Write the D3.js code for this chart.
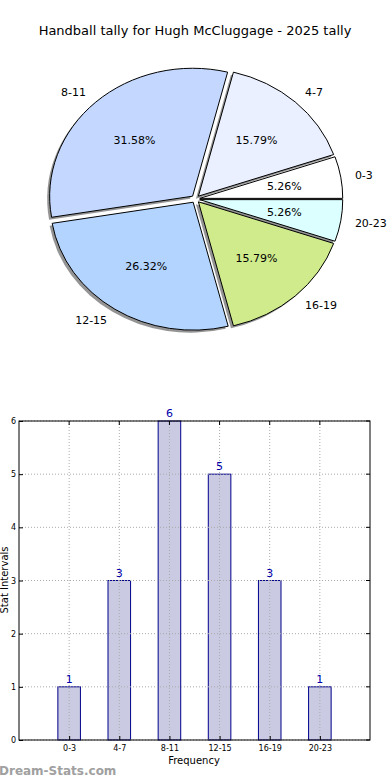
<!DOCTYPE html>
<html><head><meta charset="utf-8">
<script src="https://cdn.jsdelivr.net/npm/d3@7"></script>
<style>body{margin:0;background:#fff;} text{font-family:"DejaVu Sans",sans-serif;}</style>
</head><body><svg id="c" width="390" height="780"></svg>
<script>
const categories = ["0-3","4-7","8-11","12-15","16-19","20-23"];
const counts = [1,3,6,5,3,1];
const sliceColors = ["#ffffff","#eaf0ff","#c4d8ff","#b3d4ff","#d0eb8c","#dcffff"];
const yTicks = [0,1,2,3,4,5,6];
const title = "Handball tally for Hugh McCluggage - 2025 tally";

const svg = d3.select("#c");
svg.append("rect").attr("width",390).attr("height",780).attr("fill","#fff");
svg.append("text").attr("x",195).attr("y",35).attr("text-anchor","middle")
  .attr("font-size",13).text(title);

// Pie (matplotlib-style: counterclockwise from east)
const cx = 195.5, cy = 199, rx = 143, ry = 128, explode = 0.03;
const total = d3.sum(counts);
const pie = d3.pie().sort(null).value(d=>d)
  .startAngle(Math.PI/2).endAngle(Math.PI/2 - 2*Math.PI);
const arcs = pie(counts);
const arcGen = d3.arc().innerRadius(0).outerRadius(1);
const pieG = svg.append("g");
function mathAngle(a){ return Math.PI/2 - a; }
arcs.forEach((a,i)=>{
  const mid = mathAngle((a.startAngle + a.endAngle)/2);
  const ox = Math.cos(mid)*explode*rx, oy = -Math.sin(mid)*explode*ry;
  const path = arcGen({startAngle:a.startAngle,endAngle:a.endAngle});
  pieG.append("path").attr("d",path)
    .attr("transform",`translate(${cx+ox-2.5},${cy+oy+2.5}) scale(${rx},${ry})`)
    .attr("fill","#666").attr("opacity",0.7);
});
arcs.forEach((a,i)=>{
  const mid = mathAngle((a.startAngle + a.endAngle)/2);
  const ox = Math.cos(mid)*explode*rx, oy = -Math.sin(mid)*explode*ry;
  const path = arcGen({startAngle:a.startAngle,endAngle:a.endAngle});
  pieG.append("path").attr("d",path)
    .attr("transform",`translate(${cx+ox},${cy+oy}) scale(${rx},${ry})`)
    .attr("fill",sliceColors[i]).attr("stroke","#000")
    .attr("stroke-width",1).attr("vector-effect","non-scaling-stroke");
  const px = cx+ox + Math.cos(mid)*0.6*rx, py = cy+oy - Math.sin(mid)*0.6*ry;
  pieG.append("text").attr("x",px).attr("y",py).attr("dy","0.35em")
    .attr("text-anchor","middle").attr("font-size",11)
    .text((counts[i]/total*100).toFixed(2)+"%");
  const lx = cx+ox + Math.cos(mid)*1.1*rx, ly = cy+oy - Math.sin(mid)*1.1*ry;
  pieG.append("text").attr("x",lx).attr("y",ly).attr("dy","0.35em")
    .attr("text-anchor", Math.cos(mid) >= 0 ? "start" : "end").attr("font-size",11)
    .text(categories[i]);
});

// Bar chart
const L = 19, R = 370, T = 421, B = 740;
const x = d3.scaleLinear().domain([-1,6]).range([L,R]);
const y = d3.scaleLinear().domain([0,6]).range([B,T]);
const g = svg.append("g");
const bw = 0.45;
g.selectAll(".bar").data(counts).join("rect")
  .attr("x",(d,i)=>x(i-bw/2)).attr("width",x(bw)-x(0))
  .attr("y",d=>y(d)).attr("height",d=>B-y(d))
  .attr("fill","#cacae2").attr("stroke","#00008b").attr("stroke-width",1);
g.selectAll(".gx2").data(categories).join("line")
  .attr("x1",(d,i)=>x(i)).attr("x2",(d,i)=>x(i)).attr("y1",T).attr("y2",B)
  .attr("stroke","#aaa").attr("stroke-dasharray","1,2");
g.selectAll(".gy2").data(yTicks).join("line")
  .attr("x1",L).attr("x2",R).attr("y1",d=>y(d)).attr("y2",d=>y(d))
  .attr("stroke","#aaa").attr("stroke-dasharray","1,2");
g.selectAll(".vl").data(counts).join("text")
  .attr("x",(d,i)=>x(i)).attr("y",d=>y(d)-4)
  .attr("text-anchor","middle").attr("font-size",11).attr("fill","#0000aa")
  .text(d=>d);
g.append("rect").attr("x",L).attr("y",T).attr("width",R-L).attr("height",B-T)
  .attr("fill","none").attr("stroke","#000").attr("stroke-width",1);
const yAxis = d3.axisLeft(y).tickValues(yTicks).tickFormat(d3.format("d")).tickSize(-4).tickPadding(3);
const ya = svg.append("g").attr("transform",`translate(${L},0)`).call(yAxis);
ya.select(".domain").remove();
ya.selectAll("text").attr("font-size",8).attr("font-family","DejaVu Sans");
const xAxis = d3.axisBottom(x).tickValues(d3.range(categories.length))
  .tickFormat(i=>categories[i]).tickSize(-4).tickPadding(5);
const xa = svg.append("g").attr("transform",`translate(0,${B})`).call(xAxis);
xa.select(".domain").remove();
xa.selectAll("text").attr("font-size",8).attr("font-family","DejaVu Sans");
g.selectAll(".tt").data(categories).join("line")
  .attr("x1",(d,i)=>x(i)).attr("x2",(d,i)=>x(i)).attr("y1",T).attr("y2",T+4).attr("stroke","#000");
g.selectAll(".rt").data(yTicks).join("line")
  .attr("x1",R-4).attr("x2",R).attr("y1",d=>y(d)).attr("y2",d=>y(d)).attr("stroke","#000");
svg.append("text").attr("x",194).attr("y",764).attr("text-anchor","middle")
  .attr("font-size",10).text("Frequency");
svg.append("text").attr("transform",`translate(8,580) rotate(-90)`)
  .attr("text-anchor","middle").attr("font-size",10).text("Stat Intervals");
svg.append("text").attr("x",-1).attr("y",775).attr("font-size",12)
  .attr("font-weight","bold").attr("fill","#a0a0a0").text("Dream-Stats.com");
</script></body></html>
